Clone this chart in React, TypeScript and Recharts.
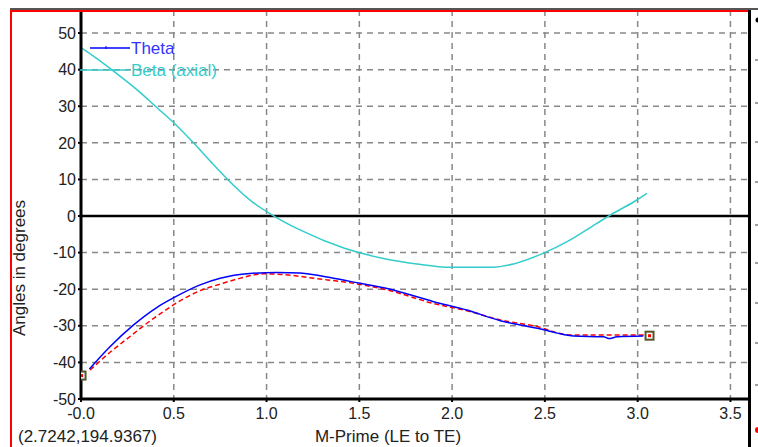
import {
  CartesianGrid,
  ComposedChart,
  Line,
  ReferenceLine,
  Scatter,
  XAxis,
  YAxis,
} from 'recharts';

// Beta (axial) — cyan
const betaX = [0.0, 0.08, 0.17, 0.29, 0.41, 0.5, 0.61, 0.7, 0.79, 0.93, 1.04, 1.18, 1.42, 1.63, 1.81, 1.99, 2.22, 2.33, 2.49, 2.62, 2.78, 2.85, 2.98, 3.05];
const betaY = [46.0, 43.2, 39.8, 35.0, 29.6, 25.5, 19.8, 14.8, 10.0, 3.6, 0.0, -3.8, -8.8, -11.6, -13.1, -14.0, -14.0, -13.1, -10.2, -7.0, -2.0, 0.2, 3.9, 6.2];

// Theta — blue
const thetaX = [0.045, 0.156, 0.282, 0.408, 0.5, 0.642, 0.75, 0.91, 1.056, 1.181, 1.36, 1.505, 1.65, 1.9, 2.08, 2.26, 2.35, 2.494, 2.566, 2.655, 2.817, 2.844, 2.89, 3.03];
const thetaY = [-41.8, -35.7, -29.8, -25.0, -22.3, -18.8, -17.0, -15.7, -15.4, -15.6, -17.0, -18.4, -19.8, -23.4, -25.7, -28.6, -29.6, -31.1, -32.0, -32.8, -33.0, -33.5, -33.0, -32.8];

// unnamed dashed red curve
const redX = [0.049, 0.15, 0.25, 0.35, 0.444, 0.55, 0.642, 0.75, 0.85, 0.984, 1.09, 1.27, 1.47, 1.65, 1.9, 2.08, 2.26, 2.494, 2.566, 2.64, 2.71, 3.033];
const redY = [-42.1, -37.5, -33.5, -29.5, -26.1, -22.7, -20.4, -18.6, -17.1, -15.8, -16.0, -17.1, -18.4, -20.2, -23.9, -25.9, -28.4, -30.7, -31.9, -32.5, -32.5, -32.5];

// end markers
const endX = [0.003, 3.064];
const endY = [-43.6, -32.7];

const xTicks = [0, 0.5, 1, 1.5, 2, 2.5, 3, 3.5];
const yTicks = [-50, -40, -30, -20, -10, 0, 10, 20, 30, 40, 50];

const zip = (xs: number[], ys: number[]) => xs.map((x, i) => ({ x, y: ys[i] }));

const betaData = zip(betaX, betaY);
const thetaData = zip(thetaX, thetaY);
const redData = zip(redX, redY);
const endData = zip(endX, endY);

const FONT = "'Liberation Sans', Arial, sans-serif";
const tickStyle = { fill: '#222', fontSize: 16, fontFamily: FONT };

function EndSquare(props: any) {
  const { cx, cy } = props;
  if (cx == null || cy == null) return null;
  return (
    <g>
      <rect x={cx - 4} y={cy - 4} width={8} height={8} fill="#fff" stroke="#55552a" strokeWidth={2} />
      <rect x={cx - 1.5} y={cy - 1.5} width={3} height={3} fill="#ff0000" />
    </g>
  );
}

function LegendBox() {
  return (
    <svg width={130} height={46} style={{ position: 'absolute', left: 78, top: 38, overflow: 'visible' }}>
      <line x1={12} y1={10} x2={52} y2={10} stroke="#0000ff" strokeWidth={1.5} />
      <line x1={28} y1={8} x2={28} y2={11} stroke="#0000ff" strokeWidth={1} />
      <text x={53} y={16} fill="#3333ff" fontSize={17} fontFamily={FONT}>Theta</text>
      <line x1={2} y1={32} x2={52} y2={32} stroke="#33cccc" strokeWidth={1.5} />
      <text x={53} y={38} fill="#33cccc" fontSize={17} fontFamily={FONT}>Beta (axial)</text>
    </svg>
  );
}

export default function App() {
  return (
    <div style={{ position: 'absolute', left: 0, top: 0, width: 758, height: 447, background: '#fff', overflow: 'hidden' }}>
      <ComposedChart width={758} height={447} margin={{ top: 10, right: 9, left: 11, bottom: 18 }}>
        <CartesianGrid stroke="#888" strokeDasharray="6 5" strokeWidth={1.5} />
        <XAxis
          dataKey="x"
          type="number"
          domain={[0, 3.6]}
          ticks={xTicks}
          allowDataOverflow
          tickFormatter={(v: number) => (v === 0 ? '-0.0' : v.toFixed(1))}
          tick={tickStyle}
          tickSize={3}
          tickMargin={6}
          height={30}
          axisLine={{ stroke: '#000', strokeWidth: 3 }}
          tickLine={{ stroke: '#000', strokeWidth: 2 }}
        />
        <YAxis
          dataKey="y"
          type="number"
          domain={[-50, 56.3]}
          ticks={yTicks}
          allowDataOverflow
          tick={tickStyle}
          tickSize={3}
          tickMargin={2}
          width={70}
          axisLine={{ stroke: '#000', strokeWidth: 3 }}
          tickLine={{ stroke: '#000', strokeWidth: 2 }}
        />
        <ReferenceLine y={0} stroke="#000" strokeWidth={2.5} />
        <Line
          data={redData}
          dataKey="y"
          name="red"
          type="monotone"
          stroke="#ff0000"
          strokeWidth={1.5}
          strokeDasharray="5 3"
          dot={false}
          isAnimationActive={false}
        />
        <Line
          data={thetaData}
          dataKey="y"
          name="Theta"
          type="monotone"
          stroke="#0000ff"
          strokeWidth={1.5}
          dot={false}
          isAnimationActive={false}
        />
        <Line
          data={betaData}
          dataKey="y"
          name="Beta (axial)"
          type="monotone"
          stroke="#33cccc"
          strokeWidth={1.5}
          dot={false}
          isAnimationActive={false}
        />
        <Scatter data={endData} dataKey="y" shape={<EndSquare />} isAnimationActive={false} />
      </ComposedChart>

      <LegendBox />

      {/* frame decorations */}
      <div style={{ position: 'absolute', left: 10, top: 8, width: 748, height: 2, background: '#555' }} />
      <div style={{ position: 'absolute', left: 10, top: 10, width: 738, height: 2, background: '#ff0000' }} />
      <div style={{ position: 'absolute', left: 10, top: 10, width: 2, height: 437, background: '#ff0000' }} />
      <div style={{ position: 'absolute', left: 748, top: 10, width: 3, height: 437, background: '#000' }} />
      <svg style={{ position: 'absolute', left: 0, top: 0 }} width={758} height={447}>
        {[60, 103, 142, 182, 225, 263, 303, 343, 385].map((y) => (
          <line key={y} x1={755} x2={758} y1={y} y2={y} stroke="#444" strokeWidth={1} />
        ))}
        <circle cx={758} cy={20} r={2.5} fill="#000" />
        <circle cx={758} cy={430} r={3} fill="#ff0000" />
      </svg>

      <div
        style={{
          position: 'absolute',
          left: 20,
          top: 268,
          transform: 'translate(-50%, -50%) rotate(-90deg)',
          whiteSpace: 'nowrap',
          fontFamily: FONT,
          fontSize: 17,
          color: '#222',
        }}
      >
        Angles in degrees
      </div>
      <div
        style={{
          position: 'absolute',
          left: 388,
          top: 437,
          transform: 'translate(-50%, -50%)',
          whiteSpace: 'nowrap',
          fontFamily: FONT,
          fontSize: 17,
          color: '#222',
        }}
      >
        M-Prime (LE to TE)
      </div>
      <div
        style={{
          position: 'absolute',
          left: 18,
          top: 437,
          transform: 'translateY(-50%)',
          whiteSpace: 'nowrap',
          fontFamily: FONT,
          fontSize: 17,
          color: '#222',
        }}
      >
        (2.7242,194.9367)
      </div>
    </div>
  );
}
